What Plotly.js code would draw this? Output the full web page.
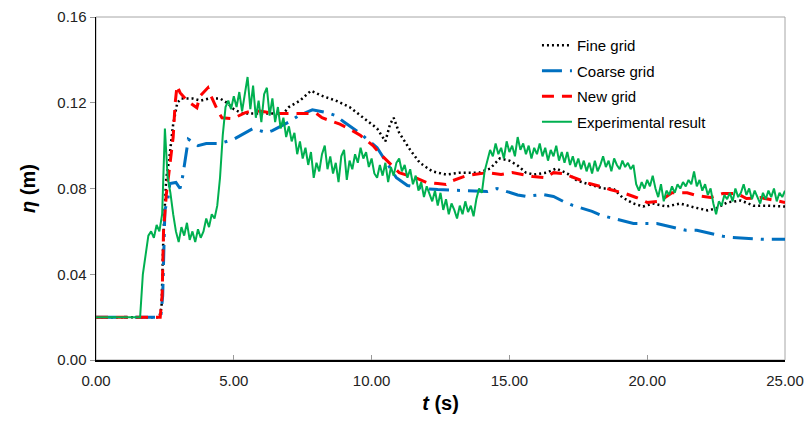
<!DOCTYPE html>
<html><head><meta charset="utf-8">
<script src="https://cdn.plot.ly/plotly-3.0.1.min.js"></script>
<style>html,body{margin:0;padding:0;background:#fff}#chart{width:811px;height:421px}</style>
</head><body><div id="chart"></div>
<script>
// Fine grid
const fineT = [0,2.3,2.38,2.45,2.55,2.65,2.8,2.95,3.1,3.5,3.8,4.1,4.5,4.75,5.0,5.3,5.95,6.5,6.8,7.0,7.4,7.8,8.25,8.7,9.2,9.7,10.2,10.5,10.67,10.8,11.0,11.4,11.75,12.2,12.7,13.2,13.9,14.3,14.65,15.0,15.3,15.6,15.9,16.35,16.7,17.1,17.45,17.9,18.4,18.77,19.1,19.5,19.85,20.2,20.7,21.2,21.7,22.2,22.5,22.9,23.4,23.85,24.3,25.0];
const fineEta = [0.02,0.02,0.025,0.06,0.085,0.093,0.11,0.12,0.122,0.122,0.121,0.122,0.122,0.120,0.117,0.115,0.115,0.115,0.115,0.118,0.121,0.1256,0.123,0.121,0.118,0.113,0.108,0.102,0.110,0.113,0.106,0.098,0.092,0.088,0.0865,0.0874,0.0874,0.0893,0.094,0.093,0.0907,0.0874,0.0865,0.0874,0.0893,0.087,0.0837,0.0819,0.080,0.080,0.0758,0.073,0.0716,0.073,0.0716,0.073,0.0712,0.0698,0.0707,0.0735,0.0744,0.072,0.072,0.0716];
// Coarse grid
const coarseT = [0,2.35,2.42,2.5,2.6,2.68,2.9,3.05,3.15,3.25,3.35,3.7,4.0,4.5,5.0,5.7,6.2,6.4,7.0,7.35,7.85,8.4,8.7,9.0,9.6,10.2,10.67,10.9,11.3,11.9,12.4,13.2,13.7,14.2,14.55,15.3,15.6,16.2,16.6,16.95,17.3,18.0,18.35,18.8,19.5,20.0,20.35,21.1,21.4,21.8,22.75,23.1,24.2,25.0];
const coarseEta = [0.02,0.02,0.03,0.07,0.0744,0.0823,0.0828,0.080,0.086,0.095,0.103,0.100,0.101,0.101,0.103,0.108,0.106,0.107,0.111,0.114,0.1167,0.1153,0.114,0.111,0.1056,0.099,0.090,0.085,0.0814,0.080,0.0795,0.079,0.0786,0.0786,0.080,0.077,0.0763,0.0772,0.0763,0.074,0.0721,0.0693,0.0674,0.066,0.0637,0.0637,0.0637,0.0614,0.0605,0.0605,0.0577,0.0572,0.0563,0.0563];
// New grid
const newT = [0,2.33,2.4,2.45,2.55,2.68,2.8,2.87,2.94,3.05,3.3,3.66,3.77,4.06,4.14,4.43,4.57,4.97,5.4,5.7,6.0,6.5,7.0,7.5,8.0,8.2,8.6,8.85,9.3,9.6,10.05,10.3,10.67,11.0,11.65,12.0,12.4,12.7,12.95,13.45,14.2,14.7,15.1,15.5,15.85,16.3,16.6,16.95,17.45,17.9,18.3,18.65,19.2,19.6,20.0,20.45,20.9,21.45,21.8,22.3,22.75,23.25,23.6,24.1,25.0];
const newEta = [0.02,0.02,0.03,0.06,0.077,0.090,0.104,0.1195,0.128,0.1247,0.121,0.1177,0.123,0.127,0.124,0.116,0.113,0.1126,0.1153,0.1163,0.116,0.115,0.115,0.115,0.115,0.113,0.111,0.110,0.107,0.1047,0.100,0.0963,0.0916,0.0874,0.0847,0.0828,0.0823,0.0819,0.0837,0.086,0.0874,0.0865,0.0874,0.0865,0.0856,0.0851,0.0874,0.087,0.0847,0.0823,0.081,0.0795,0.0777,0.0758,0.0735,0.074,0.078,0.078,0.0767,0.0758,0.0777,0.0777,0.0753,0.0758,0.0735];
// Experimental result, sampled every 0.1 s from t = 0
const expStart = 0, expStep = 0.1;
const expEta = [
0.020,0.020,0.020,0.020,0.020,0.020,0.020,0.020,0.020,0.020,0.020,0.020,0.020,0.020,0.020,0.020,0.020,
0.040,0.050,0.058,0.060,0.057,0.063,0.060,0.068,0.108,0.085,0.078,0.068,0.060,0.055,0.062,0.058,0.064,
0.056,0.060,0.055,0.061,0.057,0.060,0.066,0.062,0.068,0.066,0.072,0.085,0.105,0.118,0.121,0.117,0.123,
0.118,0.125,0.116,0.124,0.132,0.117,0.128,0.113,0.121,0.111,0.124,0.127,0.114,0.122,0.111,0.118,0.108,
0.113,0.104,0.109,0.102,0.106,0.096,0.102,0.094,0.099,0.091,0.097,0.085,0.092,0.088,0.096,0.100,0.089,
0.095,0.087,0.092,0.083,0.095,0.098,0.084,0.093,0.089,0.096,0.092,0.099,0.094,0.097,0.090,0.094,0.087,
0.085,0.091,0.086,0.092,0.083,0.090,0.086,0.092,0.094,0.088,0.091,0.085,0.089,0.082,0.086,0.079,0.083,
0.076,0.081,0.077,0.074,0.079,0.072,0.078,0.070,0.075,0.068,0.073,0.070,0.066,0.072,0.068,0.074,0.069,
0.072,0.067,0.075,0.080,0.078,0.088,0.093,0.098,0.095,0.101,0.096,0.099,0.094,0.102,0.097,0.100,0.095,
0.104,0.098,0.101,0.096,0.100,0.094,0.099,0.096,0.101,0.095,0.099,0.093,0.098,0.095,0.100,0.093,0.097,
0.092,0.097,0.091,0.095,0.090,0.094,0.089,0.093,0.088,0.092,0.087,0.093,0.088,0.091,0.095,0.090,0.093,
0.088,0.094,0.091,0.089,0.093,0.090,0.092,0.089,0.091,0.082,0.079,0.083,0.080,0.084,0.081,0.086,0.080,
0.076,0.082,0.074,0.079,0.077,0.081,0.078,0.082,0.080,0.083,0.081,0.084,0.082,0.088,0.081,0.084,0.079,
0.082,0.077,0.080,0.073,0.068,0.074,0.072,0.077,0.075,0.078,0.074,0.080,0.076,0.078,0.082,0.077,0.080,
0.075,0.079,0.076,0.073,0.078,0.075,0.079,0.076,0.080,0.074,0.078,0.076,0.079];

const xTickVals = [0,5,10,15,20,25];
const yTickVals = [0,0.04,0.08,0.12,0.16];

const traces = [
  {name:'Fine grid', x:fineT, y:fineEta, mode:'lines', legendgroup:'a',
   line:{color:'#000000', width:2.5, dash:'2px,3px'}},
  {name:'Coarse grid', x:coarseT, y:coarseEta, mode:'lines', legendgroup:'b',
   line:{color:'#0070C0', width:3, dash:'20px,8px,3px,8px'}},
  {name:'New grid', x:newT, y:newEta, mode:'lines', legendgroup:'c',
   line:{color:'#FF0000', width:3, dash:'12px,8px'}},
  {name:'Experimental result', x0:expStart, dx:expStep, y:expEta, mode:'lines', legendgroup:'d',
   line:{color:'#00B050', width:2}}
];

const layout = {
  width:811, height:421,
  margin:{l:96, r:26, t:17, b:61},
  paper_bgcolor:'#fff', plot_bgcolor:'#fff',
  font:{family:'Liberation Sans, Arial, sans-serif', size:15, color:'#222'},
  showlegend:true,
  legend:{x:0.64, y:0.965, xanchor:'left', yanchor:'top', bgcolor:'rgba(255,255,255,0)',
    font:{size:15, color:'#000'}, traceorder:'grouped', tracegroupgap:3},
  xaxis:{range:[0,25], tickvals:xTickVals, tickformat:'.2f', showgrid:false, zeroline:false,
    showline:true, linecolor:'#000', linewidth:1.5, ticks:'inside', ticklen:5, tickcolor:'#999',
    ticklabelstandoff:6,
    title:{text:'<b><i>t</i> (s)</b>', font:{size:20, color:'#000'}, standoff:8}},
  yaxis:{range:[0,0.16], tickvals:yTickVals, tickformat:'.2f', showgrid:false, zeroline:false,
    showline:true, linecolor:'#000', linewidth:1.5, ticks:'outside', ticklen:5, tickcolor:'#999',
    title:{text:'<b><i>η</i> (m)</b>', font:{size:20, color:'#000'}, standoff:16}},
  shapes:[{type:'rect', xref:'paper', yref:'paper', x0:0, x1:1, y0:0, y1:1,
    line:{color:'#a6a6a6', width:1}, layer:'below'}]
};
Plotly.newPlot('chart', traces, layout, {displayModeBar:false, staticPlot:true});
</script></body></html>
